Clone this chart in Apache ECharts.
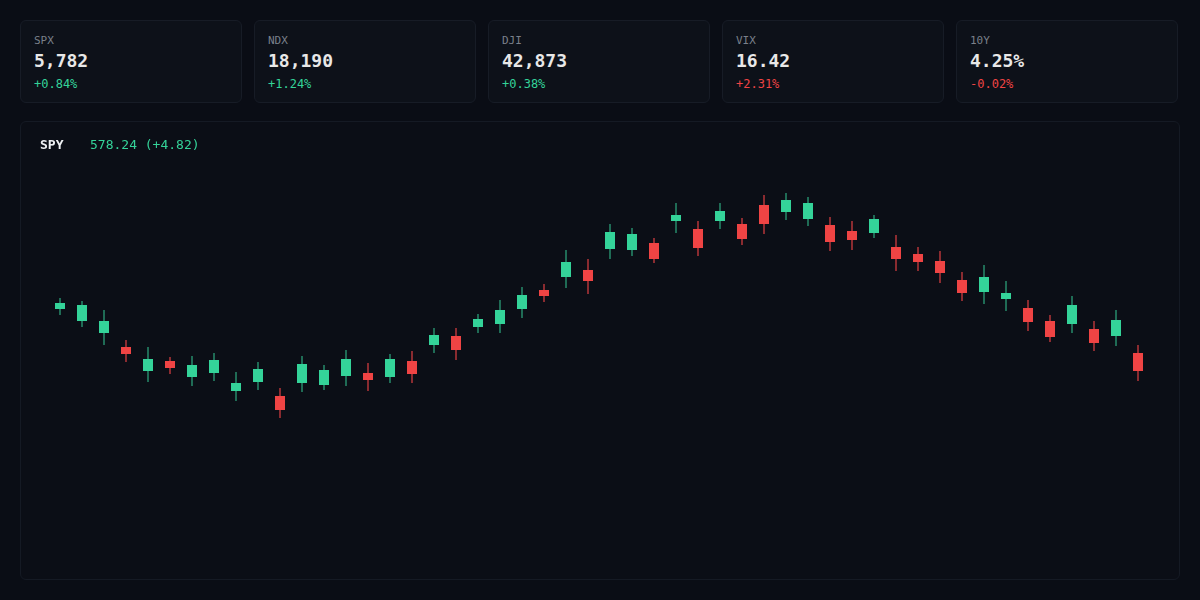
<!DOCTYPE html>
<html><head><meta charset="utf-8">
<script src="https://cdn.jsdelivr.net/npm/echarts@6/dist/echarts.min.js"></script>
<style>
html,body{margin:0;padding:0;width:1200px;height:600px;background:#0a0d15;font-family:"DejaVu Sans Mono",monospace;overflow:hidden}
.card{position:absolute;top:20px;width:222px;height:83px;background:#0d1119;border:1px solid #171c26;border-radius:6px;box-sizing:border-box}
.lbl{position:absolute;left:13px;top:13px;font-size:11px;color:#7a808a}
.val{position:absolute;left:13px;top:29px;font-size:18px;font-weight:bold;color:#e8e8e8}
.chg{position:absolute;left:13px;top:56px;font-size:12px}
#panel{position:absolute;left:20px;top:121px;width:1160px;height:459px;background:#0b0e16;border:1px solid #151a24;border-radius:6px;box-sizing:border-box}
#sym{position:absolute;left:40px;top:137px;font-size:13px;font-weight:bold;color:#eef0f3}
#px{position:absolute;left:90px;top:137px;font-size:13px;color:#34d399}
#chart{position:absolute;left:0;top:0;width:1200px;height:600px}
</style></head><body>
<div id="cards"></div>
<div id="panel"></div>
<div id="chart"></div>
<div id="sym">SPY</div><div id="px">578.24 (+4.82)</div>
<script>
const tickers=["SPX","NDX","DJI","VIX","10Y"];
const tickerValues=["5,782","18,190","42,873","16.42","4.25%"];
const tickerChanges=["+0.84%","+1.24%","+0.38%","+2.31%","-0.02%"];
const tickerUp=[true,true,true,false,false];
const cardLefts=[20,254,488,722,956];
const cc=document.getElementById('cards');
tickers.forEach((t,i)=>{
  const d=document.createElement('div');d.className='card';d.style.left=cardLefts[i]+'px';
  d.innerHTML=`<div class="lbl">${t}</div><div class="val">${tickerValues[i]}</div><div class="chg" style="color:${tickerUp[i]?'#34d399':'#ef4444'}">${tickerChanges[i]}</div>`;
  cc.appendChild(d);
});
// OHLC values (arbitrary price units)
const opens =[291,279,267,253,229,239,223,227,209,218,204,217,215,224,227,223,239,255,264,273,276,291,310,323,330,351,350,357,379,371,379,376,395,388,381,375,369,367,353,346,339,320,308,301,292,279,276,271,264,247];
const closes=[297,295,279,246,241,232,235,240,217,231,190,236,230,241,220,241,226,265,250,281,290,305,304,338,319,368,366,341,385,352,389,361,376,400,397,358,360,381,341,338,327,307,323,307,278,263,295,257,280,229];
const highs =[302,299,290,260,253,243,244,247,228,238,212,244,235,250,237,246,249,272,272,286,300,313,316,350,341,376,372,362,397,379,397,382,405,407,403,383,379,385,365,353,349,328,335,319,300,285,304,279,290,255];
const lows  =[285,273,255,238,218,226,214,219,199,210,182,208,210,214,209,217,217,247,240,267,267,282,298,312,306,341,344,337,367,344,371,355,366,380,374,349,350,362,329,329,317,299,296,289,269,258,267,249,254,219];
const cats=opens.map((_,i)=>'D'+(i+1));
const data=opens.map((o,i)=>[i,o,closes[i],lows[i],highs[i]]);
const chart=echarts.init(document.getElementById('chart'),null,{renderer:'canvas'});
chart.setOption({
  backgroundColor:'transparent',animation:false,
  grid:{left:49,right:51,top:160,bottom:40},
  xAxis:{type:'category',data:cats,show:false},
  yAxis:{type:'value',min:40,max:440,show:false},
  series:[{type:'custom',data:data,encode:{x:0,y:[1,2,3,4]},
    renderItem:(params,api)=>{
      const i=api.value(0),o=api.value(1),c=api.value(2),l=api.value(3),h=api.value(4);
      const up=c>=o;
      const pt=(v)=>api.coord([i,v]);
      const pH=pt(h),pL=pt(l),pO=pt(o),pC=pt(c);
      const top=Math.min(pO[1],pC[1]),bot=Math.max(pO[1],pC[1]);
      const x=pH[0];
      return {type:'group',children:[
        {type:'line',shape:{x1:x,y1:pH[1],x2:x,y2:pL[1]},style:{stroke:up?'#1f6b55':'#8a2b30',lineWidth:2}},
        {type:'rect',shape:{x:x-5,y:top,width:10,height:Math.max(bot-top,1)},style:{fill:up?'#34d399':'#ef4444'}}
      ]};
    }}]
});
</script></body></html>
